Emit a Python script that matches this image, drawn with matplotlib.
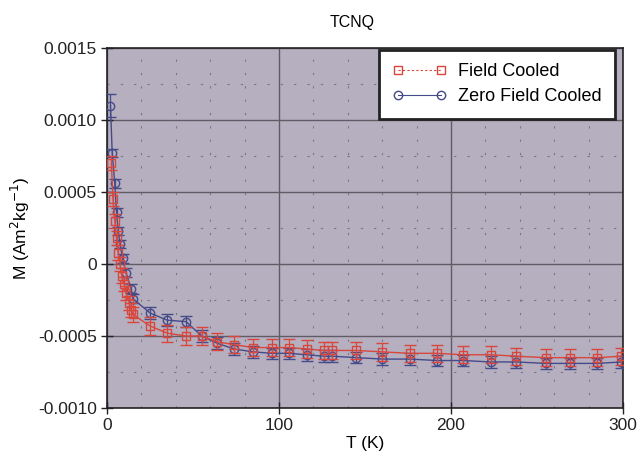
import matplotlib
matplotlib.use("Agg")
import matplotlib.pyplot as plt
from matplotlib.ticker import MultipleLocator, FixedLocator
from matplotlib.lines import Line2D

plt.rcParams['font.family'] = ['Liberation Sans', 'DejaVu Sans']

# Field Cooled (red squares)
fc_T = [2.5, 3.5, 4.5, 5.5, 6.5, 7.5, 8.5, 10, 11, 13, 14, 15, 25, 35, 46, 55, 64, 74,
        85, 96, 106, 116, 126, 131, 145, 160, 176, 192, 207, 223, 238, 255, 269, 285, 299]
fc_M = [0.00070, 0.00045, 0.00030, 0.00018, 0.00008, 0.00000, -0.00008, -0.00014, -0.00020,
        -0.00027, -0.00032, -0.00035, -0.00043, -0.00048, -0.00050, -0.00050, -0.00054,
        -0.00056, -0.00058, -0.00058, -0.00058, -0.00059, -0.00060, -0.00060, -0.00060,
        -0.00061, -0.00062, -0.00062, -0.00063, -0.00063, -0.00064, -0.00065, -0.00065,
        -0.00065, -0.00064]
fc_err = [0.00005] * 12 + [0.00006] * 23

# Zero Field Cooled (blue circles)
zfc_T = [2, 3, 4.5, 5.5, 6.5, 7.5, 9, 11, 14, 15, 25, 35, 46, 55, 64, 74,
         85, 96, 106, 116, 126, 131, 145, 160, 176, 192, 207, 223, 238, 255, 269, 285, 299]
zfc_M = [0.00110, 0.00077, 0.00056, 0.00036, 0.00023, 0.00014, 0.00004, -0.00006, -0.00017,
         -0.00024, -0.00034, -0.00039, -0.00040, -0.00050, -0.00055, -0.00059, -0.00061,
         -0.00062, -0.00062, -0.00063, -0.00064, -0.00064, -0.00065, -0.00066, -0.00066,
         -0.00067, -0.00067, -0.00068, -0.00068, -0.00069, -0.00069, -0.00069, -0.00068]
zfc_err = [0.00008, 0.00003] + [0.00003] * 8 + [0.00004] * 23

x_ticks = [0, 100, 200, 300]
y_ticks = [0.0015, 0.0010, 0.0005, 0, -0.0005, -0.0010]
y_ticklabels = ["0.0015", "0.0010", "0.0005", "0", "-0.0005", "-0.0010"]

red = '#d8463c'
blue = '#454a88'

fig = plt.figure(figsize=(6.41, 4.59), dpi=100)
ax = fig.add_axes([0.167, 0.111, 0.805, 0.7844])
ax.set_facecolor('#b6afc0')

ax.errorbar(zfc_T, zfc_M, yerr=zfc_err, color=blue, marker='o', mfc='none', mec=blue,
            ms=6, mew=1.0, lw=1.0, capsize=4, elinewidth=0.9, capthick=0.9, zorder=3)
ax.errorbar(fc_T, fc_M, yerr=fc_err, color=red, marker='s', mfc='none', mec=red,
            ms=6, mew=1.0, lw=1.0, capsize=4, elinewidth=0.9, capthick=0.9, zorder=4)

ax.set_xlim(0, 300)
ax.set_ylim(-0.0010, 0.0015)
ax.xaxis.set_major_locator(FixedLocator(x_ticks))
ax.yaxis.set_major_locator(FixedLocator(y_ticks))
ax.set_yticklabels(y_ticklabels)
ax.xaxis.set_minor_locator(MultipleLocator(20))
ax.yaxis.set_minor_locator(MultipleLocator(0.00025))

ax.grid(which='major', color='#5f5c66', lw=1.0, ls='-', zorder=1)
ax.grid(which='minor', color='#7a7682', lw=0.8, ls=(0, (2, 10)), zorder=1)
ax.set_axisbelow(True)

ax.tick_params(which='major', direction='inout', length=8, width=1.0, labelsize=12.5, colors='#222222')
ax.tick_params(which='minor', length=0)
for s in ax.spines.values():
    s.set_color('#222222')
    s.set_linewidth(1.2)

ax.set_xlabel('T (K)', fontsize=12.5, labelpad=2)
ax.set_ylabel('M (Am$^2$kg$^{-1}$)', fontsize=12.5, labelpad=4)
fig.text(352 / 641, 1 - 22 / 459, 'TCNQ', ha='center', va='center', fontsize=11.5)

handles = [
    Line2D([0], [0], color=red, marker='s', mfc='none', mec=red, ms=6, lw=0.8, ls=(0, (2, 2))),
    Line2D([0], [0], color=blue, marker='o', mfc='none', mec=blue, ms=6, lw=0.8),
]
leg = ax.legend(handles, ['Field Cooled', 'Zero Field Cooled'], loc='upper right',
                numpoints=2, fontsize=13, frameon=True, fancybox=False,
                edgecolor='#222222', facecolor='white', framealpha=1,
                handlelength=3.0, handletextpad=0.6, borderpad=0.75, labelspacing=0.45,
                borderaxespad=0, bbox_to_anchor=(0.984, 0.995))
leg.get_frame().set_linewidth(2.0)

fig.savefig('out.png', dpi=100)
